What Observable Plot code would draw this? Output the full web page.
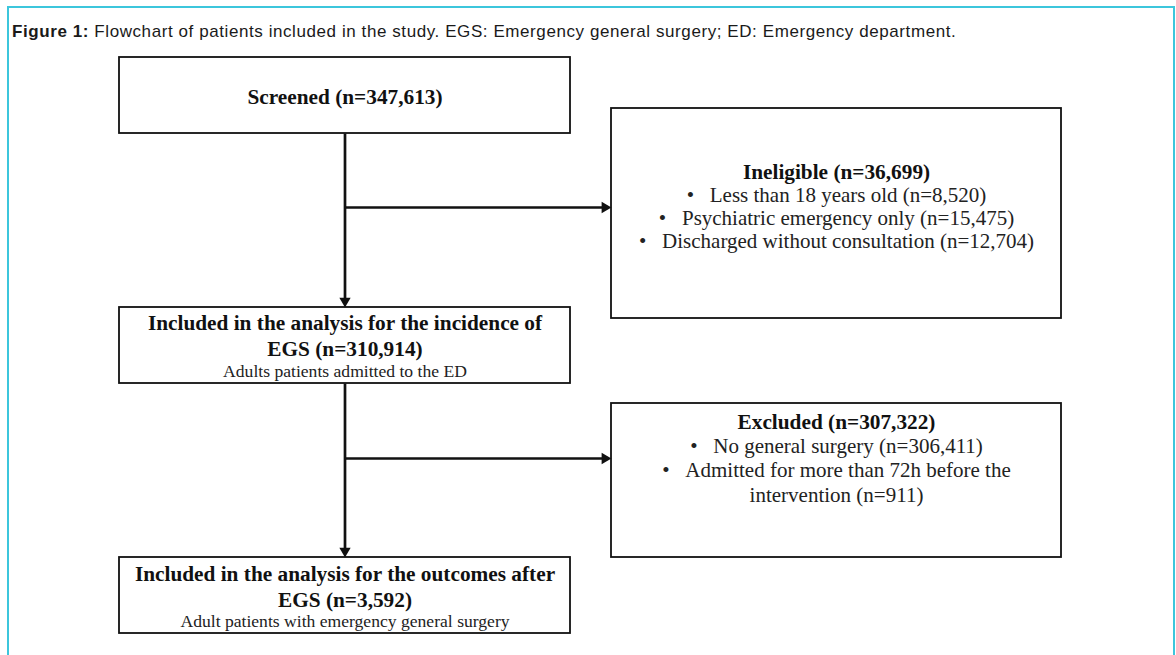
<!DOCTYPE html>
<html>
<head>
<meta charset="utf-8">
<script src="https://cdn.jsdelivr.net/npm/d3@7"></script>
<script src="https://cdn.jsdelivr.net/npm/@observablehq/plot@0.6"></script>
<style>
  html, body { margin: 0; padding: 0; background: #fff; }
  #frame { position: absolute; left: 7px; top: 6px; width: 1164px; height: 720px;
           border: 2px solid #3cc6dc; border-bottom: none; box-sizing: content-box; }
  #caption { position: relative; height: 45px; box-sizing: border-box; padding: 22px 0 0 12px;
             font: 17px/20px "Liberation Sans", Arial, sans-serif; letter-spacing: 0.58px; color: #1a1a1a; white-space: nowrap; }
  #chart { position: relative; }
  #chart svg { display: block; background: transparent; }
</style>
</head>
<body>
<div id="frame"></div>
<div id="caption"><b>Figure 1:</b> Flowchart of patients included in the study. EGS: Emergency general surgery; ED: Emergency department.</div>
<div id="chart"></div>
<script>
// ---------- data ----------
const stageIds    = ["screened", "ineligible", "incidence", "excluded", "outcomes"];
const stageLabels = ["Screened", "Ineligible",
                     "Included in the analysis for the incidence of\nEGS",
                     "Excluded",
                     "Included in the analysis for the outcomes after\nEGS"];
const stageCounts = [347613, 36699, 310914, 307322, 3592];
const stageNotes  = ["", "", "Adults patients admitted to the ED", "", "Adult patients with emergency general surgery"];

const ineligibleReasons = ["Less than 18 years old", "Psychiatric emergency only", "Discharged without consultation"];
const ineligibleCounts  = [8520, 15475, 12704];
const excludedReasons   = ["No general surgery", "Admitted for more than 72h before the\nintervention"];
const excludedCounts    = [306411, 911];

// flow: main trunk and side branches
const trunkFrom  = ["screened", "incidence"];
const trunkTo    = ["incidence", "outcomes"];
const branchTo   = ["ineligible", "excluded"];

// ---------- layout (page pixel coordinates) ----------
const layout = {
  screened:   {x1: 119, x2: 570,  y1: 57,  y2: 133, lines: [103]},
  ineligible: {x1: 611, x2: 1061, y1: 108, y2: 318, lines: [178, 201, 224, 247]},
  incidence:  {x1: 119, x2: 570,  y1: 307, y2: 383, lines: [329, 355, 376]},
  excluded:   {x1: 611, x2: 1061, y1: 403, y2: 557, lines: [428, 452, 476, 501]},
  outcomes:   {x1: 119, x2: 570,  y1: 557, y2: 633, lines: [580, 606, 626]}
};
const branchY = [207, 458];
const headOffset = 6.6; // centroid-to-tip of the triangle head

const fmt = d3.format(",");
const reasonsById = {
  ineligible: ineligibleReasons.map((r, i) => [r, ineligibleCounts[i]]),
  excluded: excludedReasons.map((r, i) => [r, excludedCounts[i]])
};

// ---------- build mark data ----------
const boxes = stageIds.map(id => ({id, ...layout[id]}));
const textLines = [];
stageIds.forEach((id, i) => {
  const L = layout[id];
  const cx = (L.x1 + L.x2) / 2;
  const rows = [];
  (stageLabels[i] + " (n=" + fmt(stageCounts[i]) + ")").split("\n").forEach(t => rows.push({text: t, kind: "bold"}));
  (reasonsById[id] || []).forEach(([r, c]) => {
    (r + " (n=" + fmt(c) + ")").split("\n").forEach((t, k) =>
      rows.push({text: (k === 0 ? "\u2022\u00a0\u00a0\u00a0" : "") + t, kind: "regular"}));
  });
  if (stageNotes[i]) rows.push({text: stageNotes[i], kind: "small"});
  rows.forEach((r, k) => textLines.push({x: cx, y: L.lines[k], text: r.text, kind: r.kind}));
});

const segs = [], heads = [];
trunkFrom.forEach((f, i) => {
  const A = layout[f], B = layout[trunkTo[i]];
  const cx = (A.x1 + A.x2) / 2;
  segs.push({x1: cx, y1: A.y2, x2: cx, y2: B.y1 - headOffset});
  heads.push({x: cx, y: B.y1 - headOffset, rotate: 180});
  const S = layout[branchTo[i]];
  segs.push({x1: cx, y1: branchY[i], x2: S.x1 - headOffset, y2: branchY[i]});
  heads.push({x: S.x1 - headOffset, y: branchY[i], rotate: 90});
});

const serif = "'Liberation Serif', 'Times New Roman', Times, serif";
const svgTop = 45, W = 1176, H = 655 - svgTop;

const chart = Plot.plot({
  width: W, height: H,
  margin: 0,
  x: {domain: [0, W], range: [0, W], axis: null},
  y: {domain: [svgTop, 655], range: [0, H], axis: null},
  style: {background: "transparent"},
  marks: [
    Plot.rect(boxes, {x1: "x1", x2: "x2", y1: "y1", y2: "y2", fill: "white", stroke: "#111", strokeWidth: 1.8}),
    Plot.link(segs, {x1: "x1", y1: "y1", x2: "x2", y2: "y2", stroke: "#111", strokeWidth: 2.7}),
    Plot.dot(heads, {x: "x", y: "y", symbol: "triangle", r: 4.2, fill: "#111", stroke: "none", rotate: "rotate"}),
    Plot.text(textLines.filter(d => d.kind === "bold"), {x: "x", y: "y", text: "text", lineAnchor: "bottom",
      fontFamily: serif, fontWeight: "bold", fontSize: 21.3, fill: "#111"}),
    Plot.text(textLines.filter(d => d.kind === "regular"), {x: "x", y: "y", text: "text", lineAnchor: "bottom",
      fontFamily: serif, fontSize: 21, fill: "#222"}),
    Plot.text(textLines.filter(d => d.kind === "small"), {x: "x", y: "y", text: "text", lineAnchor: "bottom",
      fontFamily: serif, fontSize: 17.6, fill: "#222"})
  ]
});
document.getElementById("chart").appendChild(chart);
</script>
</body>
</html>
